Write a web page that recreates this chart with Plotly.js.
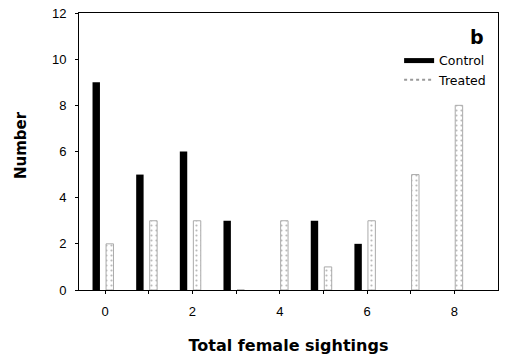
<!DOCTYPE html>
<html><head><meta charset="utf-8">
<script src="https://cdn.plot.ly/plotly-3.0.1.min.js"></script>
<style>body{margin:0;background:#fff}#c{width:514px;height:359px}</style>
</head><body><div id="c"></div>
<script>
const sightings = [0,1,2,3,4,5,6,7,8];
const control = [9,5,6,3,0,3,2,0,0];
const treated = [2,3,3,0,3,1,3,5,8];
const xTickVals = [0,2,4,6,8];
const yTickVals = [0,2,4,6,8,10,12];

const data = [
  {type:'bar', name:'Control', x:sightings, y:control, width:0.17, offset:-0.29, showlegend:false,
   marker:{color:'#000', line:{color:'#000', width:0}}},
  {type:'bar', name:'Treated', x:sightings, y:treated, width:0.17, offset:0.02, showlegend:false,
   marker:{color:'#fff', line:{color:'#aaa', width:1},
     pattern:{shape:'.', fgcolor:'#bbb', bgcolor:'#fff', size:5, solidity:0.15}}},
  // legend keys only (no data drawn)
  {type:'scatter', mode:'lines', name:'Control', x:[null], y:[null], line:{color:'#000', width:5}},
  {type:'scatter', mode:'lines', name:'Treated', x:[null], y:[null], line:{color:'#999', width:2, dash:'dot'}}
];
const layout = {
  width:514, height:359,
  margin:{l:79, r:16, t:13, b:69},
  paper_bgcolor:'#fff', plot_bgcolor:'#fff',
  barmode:'overlay',
  font:{family:'Liberation Sans, Arial, sans-serif', color:'#000', size:13},
  xaxis:{range:[-0.6,9.0], tickvals:xTickVals, ticks:'outside', ticklen:3, tickcolor:'#000',
    ticklabelstandoff:6,
    showgrid:false, zeroline:false, showline:true, linecolor:'#000', linewidth:1, mirror:true,
    tickfont:{size:13}, title:{text:'<b>Total female sightings</b>', font:{family:'DejaVu Sans', size:16}, standoff:22},
    minor:{tickvals:[1,3,5,7], ticks:'outside', ticklen:3, tickcolor:'#000'}},
  yaxis:{range:[0,12], tickvals:yTickVals, ticks:'outside', ticklen:3, tickcolor:'#000',
    ticklabelstandoff:6,
    showgrid:false, zeroline:false, showline:true, linecolor:'#000', linewidth:1, mirror:true,
    tickfont:{size:13}},
  showlegend:true,
  legend:{x:0.764, y:0.881, xanchor:'left', yanchor:'top', bgcolor:'rgba(0,0,0,0)',
    font:{family:'DejaVu Sans', size:12.5}, tracegroupgap:0},
  annotations:[
    {text:'<b>b</b>', x:0.972, y:0.9116, xref:'paper', yref:'paper',
     xanchor:'right', yanchor:'middle', showarrow:false, font:{family:'DejaVu Sans', size:19}},
    {text:'<b>Number</b>', textangle:-90, x:-0.1372, y:0.5217, xref:'paper', yref:'paper',
     xanchor:'center', yanchor:'middle', showarrow:false, font:{family:'DejaVu Sans', size:15}}
  ]
};
Plotly.newPlot('c', data, layout, {staticPlot:true});
</script></body></html>
